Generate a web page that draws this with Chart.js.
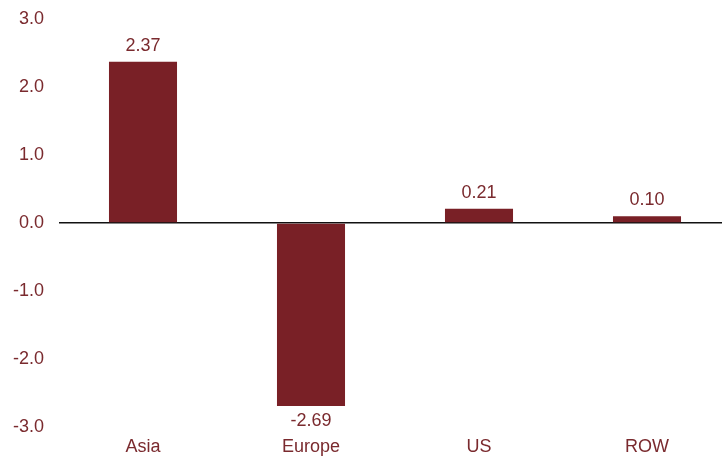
<!DOCTYPE html>
<html>
<head>
<meta charset="utf-8">
<script src="https://cdn.jsdelivr.net/npm/chart.js@4"></script>
<style>
  html, body { margin: 0; padding: 0; background: #fff; overflow: hidden; }
  #wrap { width: 731px; height: 458px; position: relative; }
</style>
</head>
<body>
<div id="wrap"><canvas id="myChart"></canvas></div>
<script>
const regions = ['Asia', 'Europe', 'US', 'ROW'];
const values = [2.37, -2.69, 0.21, 0.10];
const yTicks = [-3, -2, -1, 0, 1, 2, 3];

const barColor = '#792026';
const textColor = '#7a2a2e';
const fontFamily = '"Liberation Sans", Arial, Helvetica, sans-serif';

// draw the value above / below each bar
const valueLabels = {
    id: 'valueLabels',
    afterDatasetsDraw(chart) {
        const ctx = chart.ctx;
        const meta = chart.getDatasetMeta(0);
        ctx.save();
        ctx.font = '18px ' + fontFamily;
        ctx.fillStyle = textColor;
        ctx.textAlign = 'center';
        meta.data.forEach((bar, i) => {
            const v = values[i];
            if (v >= 0) {
                ctx.textBaseline = 'bottom';
                ctx.fillText(v.toFixed(2), bar.x, bar.y - 7);
            } else {
                ctx.textBaseline = 'top';
                ctx.fillText(v.toFixed(2), bar.x, bar.y + 6);
            }
        });
        ctx.restore();
    }
};

new Chart(document.getElementById('myChart'), {
    type: 'bar',
    data: {
        labels: regions,
        datasets: [{
            data: values,
            backgroundColor: barColor,
            borderWidth: 0,
            categoryPercentage: 1,
            barPercentage: 0.405
        }]
    },
    options: {
        responsive: true,
        maintainAspectRatio: false,
        animation: false,
        layout: { padding: { top: 19, left: 0, right: 0, bottom: 0 } },
        plugins: {
            legend: { display: false },
            tooltip: { enabled: false }
        },
        scales: {
            x: {
                grid: { display: false },
                border: { display: false },
                ticks: {
                    color: textColor,
                    font: { family: fontFamily, size: 18 },
                    padding: 1
                },
                afterFit(scale) { scale.height = 31; }
            },
            y: {
                min: -3,
                max: 3,
                afterBuildTicks(scale) { scale.ticks = yTicks.map(v => ({ value: v })); },
                border: { display: false },
                grid: {
                    drawTicks: false,
                    lineWidth: ctx => (ctx.tick && ctx.tick.value === 0 ? 1.5 : 0),
                    color: ctx => (ctx.tick && ctx.tick.value === 0 ? '#111' : 'rgba(0,0,0,0)')
                },
                ticks: {
                    color: textColor,
                    font: { family: fontFamily, size: 18 },
                    padding: 15,
                    callback: v => Number(v).toFixed(1)
                },
                afterFit(scale) { scale.width = 59; scale.paddingTop = 0; }
            }
        }
    },
    plugins: [valueLabels]
});
</script>
</body>
</html>
